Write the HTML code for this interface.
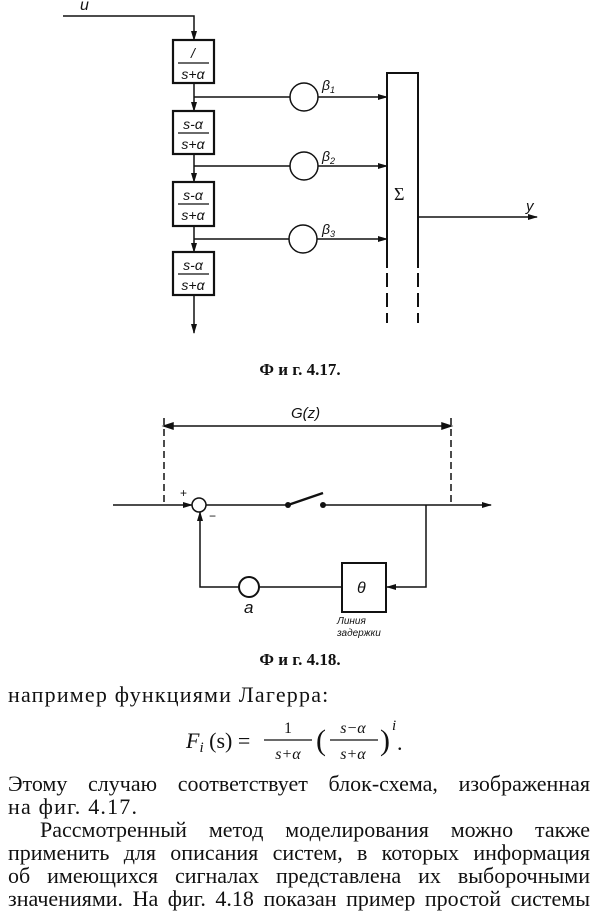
<!DOCTYPE html>
<html><head><meta charset="utf-8"><style>
html,body{margin:0;padding:0;background:#fff;}
body{width:600px;height:914px;position:relative;overflow:hidden;font-family:"Liberation Serif",serif;color:#111;}
.t{position:absolute;left:8px;width:582px;font-size:22px;line-height:23px;text-align:justify;text-align-last:justify;white-space:nowrap;}
.t.n{text-align-last:left;letter-spacing:1.2px;}
</style></head><body>
<svg width="600" height="914" style="position:absolute;left:0;top:0" font-family="Liberation Sans, sans-serif">
<defs><marker id="a" markerWidth="10" markerHeight="6" refX="9" refY="3" orient="auto" markerUnits="userSpaceOnUse"><path d="M0,0 L10,3 L0,6 z" fill="#111"/></marker></defs>
<g stroke="#111" stroke-width="1.5" fill="none">
<polyline points="63,16 194,16 194,40" marker-end="url(#a)"/>
<line x1="194" y1="83" x2="194" y2="111" marker-end="url(#a)"/>
<line x1="194" y1="154" x2="194" y2="182" marker-end="url(#a)"/>
<line x1="194" y1="226" x2="194" y2="252" marker-end="url(#a)"/>
<line x1="194" y1="295" x2="194" y2="333" marker-end="url(#a)"/>
<g stroke-width="2.2">
<rect x="173" y="40" width="41" height="43"/>
<rect x="173" y="111" width="41" height="43"/>
<rect x="173" y="182" width="41" height="44"/>
<rect x="173" y="252" width="41" height="43"/>
</g>
<line x1="194" y1="97" x2="290" y2="97"/><circle cx="304" cy="97" r="14"/><line x1="318" y1="97" x2="387" y2="97" marker-end="url(#a)"/>
<line x1="194" y1="166" x2="290" y2="166"/><circle cx="304" cy="166" r="14"/><line x1="318" y1="166" x2="387" y2="166" marker-end="url(#a)"/>
<line x1="194" y1="239" x2="289" y2="239"/><circle cx="303" cy="239" r="14"/><line x1="317" y1="239" x2="387" y2="239" marker-end="url(#a)"/>
<polyline points="387,268 387,73 418,73 418,268" stroke-width="2"/>
<line x1="387" y1="273" x2="387" y2="323" stroke-width="2" stroke-dasharray="14,6"/>
<line x1="418" y1="273" x2="418" y2="323" stroke-width="2" stroke-dasharray="14,6"/>
<line x1="418" y1="217" x2="537" y2="217" marker-end="url(#a)"/>
<line x1="164" y1="426" x2="451" y2="426"/>
<path d="M164,426 l9,-3 v6 z M451,426 l-9,-3 v6 z" fill="#111"/>
<line x1="164" y1="418" x2="164" y2="505" stroke-dasharray="7,4"/>
<line x1="451" y1="418" x2="451" y2="505" stroke-dasharray="7,4"/>
<line x1="113" y1="505" x2="192" y2="505" marker-end="url(#a)"/>
<circle cx="199" cy="505" r="7"/>
<line x1="206" y1="505" x2="288" y2="505"/>
<line x1="288" y1="505" x2="323" y2="493" stroke-width="2.5"/>
<line x1="323" y1="505" x2="491" y2="505" marker-end="url(#a)"/>
<polyline points="426,505 426,587 387,587" marker-end="url(#a)"/>
<rect x="342" y="563" width="44" height="49" stroke-width="2"/>
<line x1="342" y1="587" x2="259" y2="587"/>
<circle cx="249" cy="587" r="10" stroke-width="2"/>
<polyline points="239,587 200,587 200,512" marker-end="url(#a)"/>
</g>
<circle cx="288" cy="505" r="3" fill="#111"/><circle cx="323" cy="505" r="3" fill="#111"/>
<g font-style="italic" fill="#111" font-size="14">
<text x="80" y="10" font-size="16">u</text>
<text x="193" y="58" text-anchor="middle">/</text>
<line x1="178" y1="63" x2="209" y2="63" stroke="#111" stroke-width="1.2"/>
<text x="193" y="79" text-anchor="middle">s+α</text>
<text x="193" y="129" text-anchor="middle">s-α</text><line x1="178" y1="133" x2="209" y2="133" stroke="#111" stroke-width="1.2"/><text x="193" y="149" text-anchor="middle">s+α</text>
<text x="193" y="200" text-anchor="middle">s-α</text><line x1="178" y1="204" x2="209" y2="204" stroke="#111" stroke-width="1.2"/><text x="193" y="220" text-anchor="middle">s+α</text>
<text x="193" y="270" text-anchor="middle">s-α</text><line x1="178" y1="274" x2="209" y2="274" stroke="#111" stroke-width="1.2"/><text x="193" y="290" text-anchor="middle">s+α</text>
<text x="322" y="90">β<tspan font-size="9" dy="3">1</tspan></text>
<text x="322" y="161">β<tspan font-size="9" dy="3">2</tspan></text>
<text x="322" y="234">β<tspan font-size="9" dy="3">3</tspan></text>
<text x="526" y="211" font-size="15">y</text>
<text x="291" y="418" font-size="15">G(z)</text>
<text x="244" y="613" font-size="17">a</text>
<text x="357" y="593" font-size="16">θ</text>
<text x="337" y="624" font-size="10">Линия</text>
<text x="337" y="636" font-size="10">задержки</text>
</g>
<text x="394" y="200" font-size="18" fill="#111" font-family="Liberation Serif, serif">Σ</text>
<text x="180" y="497" font-size="12" fill="#111">+</text>
<text x="209" y="520" font-size="12" fill="#111">−</text>
<text x="300" y="375" font-size="17" font-weight="bold" text-anchor="middle" fill="#111" font-family="Liberation Serif, serif">Ф и г.  4.17.</text>
<text x="300" y="665" font-size="17" font-weight="bold" text-anchor="middle" fill="#111" font-family="Liberation Serif, serif">Ф и г.  4.18.</text>
<g font-family="Liberation Serif, serif" fill="#111">
<text x="186" y="748" font-size="22" font-style="italic">F<tspan font-size="15" dy="4">i</tspan><tspan dy="-4" font-style="normal"> (s) =</tspan></text>
<text x="288" y="733" font-size="16" text-anchor="middle">1</text>
<line x1="264" y1="740" x2="312" y2="740" stroke="#111" stroke-width="1.2"/>
<text x="288" y="759" font-size="16" text-anchor="middle" font-style="italic">s+α</text>
<text x="316" y="750" font-size="30">(</text>
<text x="353" y="733" font-size="16" text-anchor="middle" font-style="italic">s−α</text>
<line x1="330" y1="740" x2="378" y2="740" stroke="#111" stroke-width="1.2"/>
<text x="353" y="759" font-size="16" text-anchor="middle" font-style="italic">s+α</text>
<text x="380" y="750" font-size="30">)</text>
<text x="392" y="730" font-size="15" font-style="italic">i</text>
<text x="397" y="750" font-size="22">.</text>
</g>
</svg>
<div class="t n" style="top:683px">например функциями Лагерра:</div>
<div class="t" style="top:772px">Этому случаю соответствует блок-схема, изображенная</div>
<div class="t n" style="top:795px">на фиг. 4.17.</div>
<div class="t" style="top:818px;left:40px;width:550px">Рассмотренный метод моделирования можно также</div>
<div class="t" style="top:841px">применить для описания систем, в которых информация</div>
<div class="t" style="top:864px">об имеющихся сигналах представлена их выборочными</div>
<div class="t" style="top:887px">значениями. На фиг. 4.18 показан пример простой системы</div>
</body></html>
